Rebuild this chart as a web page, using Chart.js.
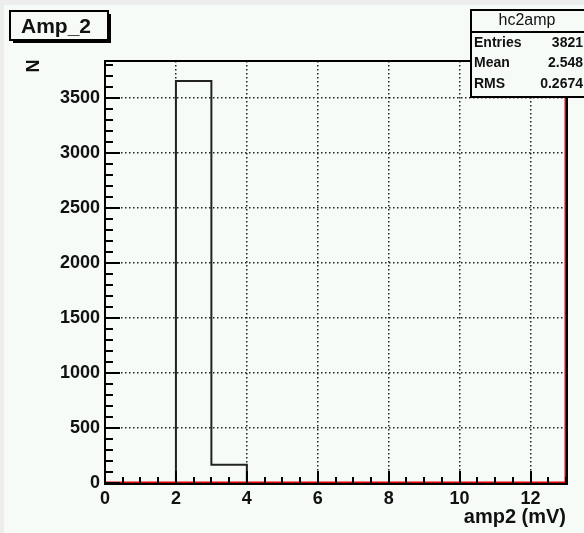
<!DOCTYPE html>
<html>
<head>
<meta charset="utf-8">
<script src="https://cdn.jsdelivr.net/npm/chart.js@4.4.0/dist/chart.umd.min.js"></script>
<style>
  html, body { margin: 0; padding: 0; background: #f6fbf8; }
  canvas { display: block; }
</style>
</head>
<body>
<canvas id="ampChart" width="584" height="533"></canvas>
<script>
// histogram hc2amp, 13 bins of 1 mV
const binEdges = [0, 1, 2, 3, 4, 5, 6, 7, 8, 9, 10, 11, 12, 13];
const ampCounts = [0, 0, 3655, 166, 0, 0, 0, 0, 0, 0, 0, 0, 0];
const refCounts = [0, 0, 0, 0, 0, 0, 0, 0, 0, 0, 0, 0, 0];

const xTickLabels = [0, 2, 4, 6, 8, 10, 12];
const yTickLabels = [0, 500, 1000, 1500, 2000, 2500, 3000, 3500];
const yMax = 3838;

const statsTitle = "hc2amp";
const statsNames = ["Entries", "Mean", "RMS"];
const statsValues = ["3821", "2.548", "0.2674"];

const BG = "#f6fbf8";
const FONT = "'Liberation Sans', Arial, sans-serif";

// outline of a histogram as a step line
function stepPoints(edges, counts, closeTo) {
  const pts = [{ x: edges[0], y: 0 }];
  counts.forEach((c, i) => {
    pts.push({ x: edges[i], y: c });
    pts.push({ x: edges[i + 1], y: c });
  });
  pts.push({ x: edges[edges.length - 1], y: closeTo });
  return pts;
}

const frameAndBoxes = {
  id: "frameAndBoxes",
  beforeDraw(chart) {
    const ctx = chart.ctx;
    ctx.save();
    ctx.fillStyle = "#ededed";
    ctx.fillRect(0, 0, chart.width, chart.height);
    ctx.fillStyle = BG;
    ctx.fillRect(4, 5, chart.width, chart.height);
    ctx.restore();
  },
  afterDraw(chart) {
    const ctx = chart.ctx;
    const { left, right, top, bottom } = chart.chartArea;
    const xs = chart.scales.x, ys = chart.scales.y;
    ctx.save();
    ctx.strokeStyle = "#000";
    ctx.lineWidth = 2;

    // minor + major ticks, pointing inwards
    ctx.beginPath();
    for (let v = 0; v <= yMax; v += 100) {
      const py = Math.round(ys.getPixelForValue(v));
      const len = v % 500 === 0 ? 15 : 8;
      ctx.moveTo(left, py);
      ctx.lineTo(left + len, py);
    }
    for (let v = 0; v <= 13; v += 0.5) {
      const px = Math.round(xs.getPixelForValue(v));
      const len = v % 2 === 0 ? 12 : 6;
      ctx.moveTo(px, bottom);
      ctx.lineTo(px, bottom - len);
    }
    ctx.stroke();

    // frame
    ctx.beginPath();
    ctx.moveTo(left, top);
    ctx.lineTo(right + 1, top);
    ctx.lineTo(right + 1, bottom + 1);
    ctx.lineTo(left, bottom + 1);
    ctx.closePath();
    ctx.stroke();

    // axis titles
    ctx.fillStyle = "#111";
    ctx.font = "bold 20px " + FONT;
    ctx.textAlign = "right";
    ctx.textBaseline = "alphabetic";
    ctx.fillText("amp2 (mV)", right, 523);
    ctx.save();
    ctx.translate(33, 66);
    ctx.rotate(-Math.PI / 2);
    ctx.font = "bold 18px " + FONT;
    ctx.textAlign = "center";
    ctx.textBaseline = "middle";
    ctx.fillText("N", 0, 1);
    ctx.restore();

    // title box with shadow
    ctx.fillStyle = "#000";
    ctx.fillRect(13, 14, 98, 29);
    ctx.fillStyle = BG;
    ctx.fillRect(10, 11, 98, 29);
    ctx.strokeRect(10, 11, 98, 29);
    ctx.fillStyle = "#111";
    ctx.font = "bold 21px " + FONT;
    ctx.textAlign = "center";
    ctx.textBaseline = "middle";
    ctx.fillText("Amp_2", 56, 27);

    // stats box
    ctx.fillStyle = BG;
    ctx.fillRect(471, 10, 130, 87);
    ctx.strokeRect(471, 10, 130, 87);
    ctx.beginPath();
    ctx.moveTo(471, 32);
    ctx.lineTo(chart.width, 32);
    ctx.stroke();
    ctx.fillStyle = "#111";
    ctx.font = "16px " + FONT;
    ctx.fillText(statsTitle, 527, 21);
    ctx.font = "bold 14px " + FONT;
    statsNames.forEach((name, i) => {
      const cy = 43 + i * 20.5;
      ctx.textAlign = "left";
      ctx.fillText(name, 474, cy);
      ctx.textAlign = "right";
      ctx.fillText(statsValues[i], 583, cy);
    });
    ctx.restore();
  }
};

const gridColor = c => (c.tick && c.tick.value === 0 ? "rgba(0,0,0,0)" : "#222");
const plainLabel = v => String(v);

new Chart(document.getElementById("ampChart"), {
  type: "line",
  data: {
    datasets: [
      {
        label: "ref",
        data: stepPoints(binEdges, refCounts, yMax),
        borderColor: "#e00000",
        borderWidth: 3,
        pointRadius: 0,
        fill: false
      },
      {
        label: "hc2amp",
        data: stepPoints(binEdges, ampCounts, 0),
        borderColor: "#222",
        borderWidth: 2,
        pointRadius: 0,
        fill: false
      }
    ]
  },
  options: {
    responsive: false,
    devicePixelRatio: 1,
    animation: false,
    layout: { padding: { top: 61, right: 18, left: 0, bottom: 0 } },
    plugins: { legend: { display: false }, tooltip: { enabled: false } },
    scales: {
      x: {
        type: "linear",
        min: 0,
        max: 13,
        afterFit: s => { s.height = 50; },
        afterBuildTicks: s => { s.ticks = xTickLabels.map(v => ({ value: v })); },
        ticks: { callback: plainLabel, color: "#111", padding: 5, maxRotation: 0, autoSkip: false, font: { family: FONT, size: 18, weight: "bold" } },
        grid: { drawTicks: false, color: gridColor, lineWidth: 1.5 },
        border: { display: false, dash: [1.5, 2.5] }
      },
      y: {
        type: "linear",
        min: 0,
        max: yMax,
        afterFit: s => { s.width = 105; },
        afterBuildTicks: s => { s.ticks = yTickLabels.map(v => ({ value: v })); },
        ticks: { callback: plainLabel, color: "#111", padding: 5, autoSkip: false, font: { family: FONT, size: 18, weight: "bold" } },
        grid: { drawTicks: false, color: gridColor, lineWidth: 1.5 },
        border: { display: false, dash: [1.5, 2.5] }
      }
    }
  },
  plugins: [frameAndBoxes]
});
</script>
</body>
</html>
